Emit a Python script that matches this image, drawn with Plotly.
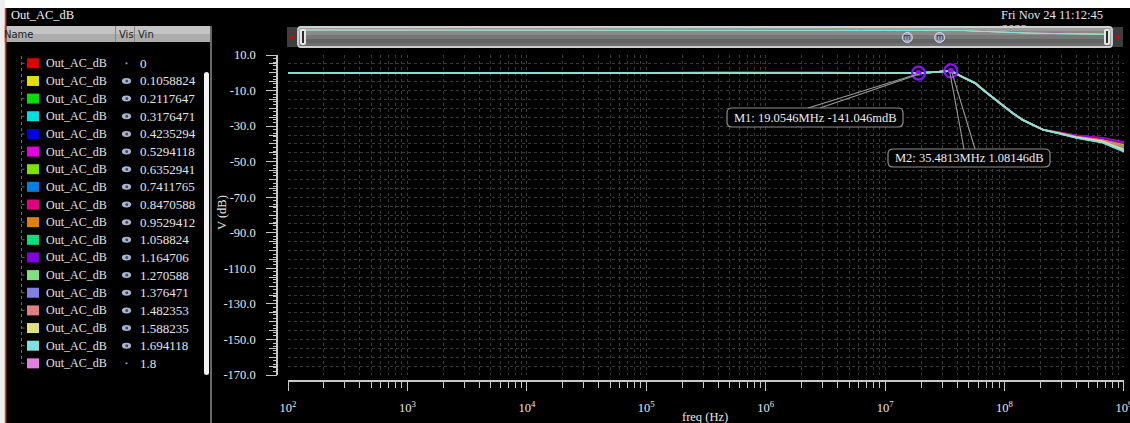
import math
import plotly.graph_objects as go

W, H = 1130, 423
SERIF = "Liberation Serif, Times New Roman, serif"
SANS = "DejaVu Sans, Noto Sans, sans-serif"

# AC sweep frequencies (Hz), shared by every Vin run
freq_hz = [1e2, 1e5, 4e5, 1e6, 3e6, 6e6, 1e7, 1.4e7,
           1.90546e7, 2.5e7, 3e7, 3.54813e7, 4.4e7, 5.7e7, 6.9e7, 9.1e7,
           1.17e8, 1.41e8, 2.1e8,
           2.9e8, 4e8, 6.6e8, 1e9]

# Parametric sweep of Vin: label, trace colour, shown in the plot or not
run_vin = ["0", "0.1058824", "0.2117647", "0.3176471", "0.4235294", "0.5294118",
           "0.6352941", "0.7411765", "0.8470588", "0.9529412", "1.058824",
           "1.164706", "1.270588", "1.376471", "1.482353", "1.588235",
           "1.694118", "1.8"]
run_color = ["#e00000", "#e0e000", "#00e000", "#00e0e0", "#0000e0", "#e000e0",
             "#80e000", "#0080e0", "#e00080", "#e08000", "#00e080", "#8000e0",
             "#80e080", "#8080e0", "#e08080", "#e0e080", "#80e0e0", "#e080e0"]
run_visible = [False, True, True, True, True, True, True, True, True, True,
               True, True, True, True, True, True, True, False]

# Out_AC_dB of the visible runs (Vin 0.1058824 ... 1.694118)
db_flat = [0.0, 0.0]                                   # 100 Hz, 100 kHz
db_400k = [0.0, 0.0, 0.0, 0.0, 0.0, 0.0, 0.0, 0.0, 0.0, 0.0, 0.5, 0.0, 0.0, 0.0, 0.0, 0.0]
db_1M = [0.0, 0.0, 0.0, 0.0, 0.0, 0.0, 0.0, 0.0, 0.0, 0.0, 0.5, 0.0, 0.0, 0.0, 0.0, 0.0]
db_3M = [0.0, 0.0, 0.0, 0.0, 0.0, 0.0, 0.0, 0.0, 0.0, 0.0, 0.4, 0.0, 0.0, 0.0, 0.0, 0.0]
db_6M = [0.0, 0.0, 0.0, 0.0, 0.0, 0.0, 0.0, 0.0, 0.0, -0.3, 0.0, -0.3, 0.0, 0.0, 0.0, 0.0]
db_10M = [-0.05, -0.05, -0.05, -0.05, -0.05, -0.05, -0.05, -0.05, -0.05, -0.35, -0.1, -0.35,
          -0.05, -0.05, -0.05, -0.05]
db_14M = [-0.1, -0.1, -0.1, -0.1, -0.1, -0.1, -0.1, -0.1, -0.1, -0.3, -0.1, -0.3,
          -0.1, -0.1, -0.1, -0.1]
# common peaking / roll-off, 19.05 MHz ... 210 MHz
db_peak = [-0.141046, 0.3, 0.8, 1.08146, -2.2, -5.9, -10.6, -17.1, -22.7, -26.4, -32.0]
# runs fan out above 200 MHz
db_290M = [-33.7, -33.8, -34.3, -34.0, -33.6, -33.8, -34.0, -33.7, -33.9, -34.2, -33.6,
           -34.2, -34.1, -33.9, -34.1, -34.3]
db_400M = [-35.5, -35.7, -36.6, -36.0, -35.2, -35.6, -36.1, -35.4, -35.8, -36.4, -35.3,
           -36.5, -36.2, -35.9, -36.3, -36.7]
db_660M = [-37.1, -37.5, -39.1, -38.1, -36.6, -37.3, -38.2, -37.0, -37.7, -38.8, -36.8,
           -39.0, -38.4, -37.9, -38.6, -39.3]
db_1G = [-40.1, -40.8, -44.0, -41.9, -39.0, -40.4, -42.2, -39.7, -41.2, -43.3, -39.4,
         -43.7, -42.6, -41.5, -43.0, -44.4]

# Markers placed on the response
marker_name = ["M1", "M2"]
marker_freq = [19.0546e6, 35.4813e6]
marker_db = [-0.141046, 1.08146]
marker_text = ["M1: 19.0546MHz -141.046mdB", "M2: 35.4813MHz 1.08146dB"]

# Axis ticks
x_tickvals = [1e2, 1e3, 1e4, 1e5, 1e6, 1e7, 1e8, 1e9]
x_ticktext = ["10<sup>2</sup>", "10<sup>3</sup>", "10<sup>4</sup>", "10<sup>5</sup>",
              "10<sup>6</sup>", "10<sup>7</sup>", "10<sup>8</sup>", "10<sup>9</sup>"]
y_tickvals = [10, -10, -30, -50, -70, -90, -110, -130, -150, -170]
y_ticktext = ["10.0", "-10.0", "-30.0", "-50.0", "-70.0", "-90.0", "-110.0",
              "-130.0", "-150.0", "-170.0"]

# ---- layout geometry (pixels) ----
PX0, PX1 = 288, 1124          # plot area left/right
PY0, PY1 = 55, 375            # plot area top/bottom
OX0, OX1 = 297, 1108          # overview strip
OY0, OY1 = 29, 47
X_RANGE = [2, 9.0004]
OV_RANGE = [2.17, 8.96]


def X(px):
    return px / W


def Y(py):
    return 1 - py / H


def plot_px(f, db):
    return (PX0 + (math.log10(f) - X_RANGE[0]) / (X_RANGE[1] - X_RANGE[0]) * (PX1 - PX0),
            PY0 + (10 - db) / 180 * (PY1 - PY0))


def overview_px(f):
    return OX0 + (math.log10(f) - OV_RANGE[0]) / (OV_RANGE[1] - OV_RANGE[0]) * (OX1 - OX0)


def rect(x0, y0, x1, y1, fill, layer="above", line=None):
    return dict(type="rect", xref="paper", yref="paper", x0=X(x0), x1=X(x1),
                y0=Y(y1), y1=Y(y0), fillcolor=fill, layer=layer,
                line=line if line else dict(width=0))


def seg(x0, y0, x1, y1, color, width=1.0, dash="solid", layer="above"):
    return dict(type="line", xref="paper", yref="paper", x0=X(x0), y0=Y(y0),
                x1=X(x1), y1=Y(y1), layer=layer,
                line=dict(color=color, width=width, dash=dash))


def circ(cx, cy, rx, ry, fill, line=None, layer="above"):
    return dict(type="circle", xref="paper", yref="paper", x0=X(cx - rx), x1=X(cx + rx),
                y0=Y(cy + ry), y1=Y(cy - ry), fillcolor=fill, layer=layer,
                line=line if line else dict(width=0))


def rrect(x0, y0, x1, y1, r, fill, line=None, layer="above"):
    p = (f"M {X(x0 + r)},{Y(y0)} L {X(x1 - r)},{Y(y0)} Q {X(x1)},{Y(y0)} {X(x1)},{Y(y0 + r)} "
         f"L {X(x1)},{Y(y1 - r)} Q {X(x1)},{Y(y1)} {X(x1 - r)},{Y(y1)} "
         f"L {X(x0 + r)},{Y(y1)} Q {X(x0)},{Y(y1)} {X(x0)},{Y(y1 - r)} "
         f"L {X(x0)},{Y(y0 + r)} Q {X(x0)},{Y(y0)} {X(x0 + r)},{Y(y0)} Z")
    return dict(type="path", xref="paper", yref="paper", path=p, fillcolor=fill,
                layer=layer, line=line if line else dict(width=0))


def tri(pts, fill):
    p = "M " + " L ".join(f"{X(a)},{Y(b)}" for a, b in pts) + " Z"
    return dict(type="path", xref="paper", yref="paper", path=p, fillcolor=fill,
                layer="above", line=dict(width=0))


def txt(x, y, s, size=12.5, color="#e6e6e6", anchor="left", family=SERIF, **kw):
    return dict(x=X(x), y=Y(y), xref="paper", yref="paper", text=s, showarrow=False,
                xanchor=anchor, yanchor="middle", borderpad=0,
                font=dict(family=family, size=size, color=color), **kw)


fig = go.Figure()

# ---- waveforms ----
shown = [i for i, v in enumerate(run_visible) if v]
curves = []
for k, i in enumerate(shown):
    y = (db_flat + [db_400k[k], db_1M[k], db_3M[k], db_6M[k], db_10M[k], db_14M[k]]
         + db_peak + [db_290M[k], db_400M[k], db_660M[k], db_1G[k]])
    curves.append((i, y))
    fig.add_trace(go.Scatter(x=freq_hz, y=y, mode="lines", xaxis="x", yaxis="y",
                             line=dict(color=run_color[i], width=1.6),
                             name=f"Out_AC_dB Vin={run_vin[i]}", hoverinfo="skip"))

# overview strip (whole sweep in miniature)
for i, y in curves:
    fig.add_trace(go.Scatter(x=freq_hz, y=y, mode="lines", xaxis="x3", yaxis="y3",
                             line=dict(color=run_color[i], width=1), hoverinfo="skip"))

# dense tick comb on the dB axis
fig.add_trace(go.Scatter(x=[], y=[], xaxis="x", yaxis="y2", hoverinfo="skip"))

# markers
fig.add_trace(go.Scatter(x=marker_freq, y=marker_db, mode="markers", xaxis="x", yaxis="y",
                         marker=dict(symbol="circle-open", size=13, color="#8a10ff",
                                     line=dict(width=2.2, color="#8a10ff")),
                         hoverinfo="skip"))
fig.add_trace(go.Scatter(x=marker_freq, y=marker_db, mode="markers", xaxis="x", yaxis="y",
                         marker=dict(symbol="circle", size=6, color="#8a10ff"),
                         hoverinfo="skip"))

# date line partly hidden behind the overview strip
fig.add_trace(go.Scatter(x=[1002], y=[29.5], mode="text", text=["2023"],
                         textposition="middle right", xaxis="x4", yaxis="y4",
                         cliponaxis=True, hoverinfo="skip",
                         textfont=dict(family=SERIF, size=12.5, color="#e6e6e6")))

shapes = []
ann = []

# ---- window chrome ----
shapes.append(rect(0, 0, W, 8, "#ffffff"))
shapes.append(rect(0, 0, 5, H, "#eeeeee"))
shapes.append(seg(5.6, 8, 5.6, H, "#d03a3a", 1.6))
ann.append(txt(10, 15, "Out_AC_dB", size=12.5, color="#f0f0f0"))

# browser header row
shapes.append(rect(6.5, 26, 210, 34, "#c4c4c4"))
shapes.append(rect(6.5, 34, 210, 42, "#adadad"))
shapes.append(seg(115.5, 26, 115.5, 42, "#858585", 1))
shapes.append(seg(134.5, 26, 134.5, 42, "#858585", 1))
ann.append(txt(3, 34, "Name", size=10, color="#1e1e1e", family=SANS))
ann.append(txt(118, 34, "Vis", size=10, color="#1e1e1e", family=SANS))
ann.append(txt(137, 34, "Vin", size=10, color="#1e1e1e", family=SANS))
shapes.append(seg(5.6, 26, 5.6, 42, "#d03a3a", 1.6))
shapes.append(seg(211, 26, 211, H, "#8a8a8a", 1.5))
shapes.append(rrect(204, 72, 209, 375, 2.5, "#f2f2f2"))

# signal list
row0, row_h = 63.3, 17.65
shapes.append(seg(21.5, 56, 21.5, row0 + row_h * (len(run_vin) - 1), "#6a6a6a", 1, "dot"))
for r, (vin, col, vis) in enumerate(zip(run_vin, run_color, run_visible)):
    cy = row0 + r * row_h
    shapes.append(seg(21.5, cy, 26, cy, "#6a6a6a", 1, "dot"))
    shapes.append(rect(27, cy - 5, 39, cy + 5, col))
    ann.append(txt(45, cy, "Out_AC_dB", size=12, color="#e4e4e4"))
    ann.append(txt(139, cy, vin, size=13, color="#e4e4e4"))
    if vis:
        shapes.append(circ(126.5, cy, 4.6, 3.0, "#aab6ca"))
        shapes.append(circ(126.8, cy, 1.5, 1.5, "#3c4a66"))
    else:
        shapes.append(circ(126.5, cy, 1.1, 1.1, "#8c9ab2"))

# ---- overview strip ----
shapes.append(rrect(297, 26, 1113, 48, 4, "#cfcfcf", layer="below"))
for y0, y1, c in [(28, 31, "#9c9c9c"), (31, 35, "#8a8a8a"), (35, 39, "#777777"),
                  (39, 43, "#636363"), (43, 46, "#6e6e6e")]:
    shapes.append(rect(299.5, y0, 1110.5, y1, c, layer="below"))
shapes.append(rect(287, 27, 297, 47, "#3e3e3e"))
shapes.append(tri([(293.5, 34), (289.5, 37), (293.5, 40)], "#e00000"))
shapes.append(rect(1113, 27, 1123, 47, "#3e3e3e"))
shapes.append(tri([(1116.5, 34), (1120.5, 37), (1116.5, 40)], "#e00000"))
for hx in (300, 1104):
    shapes.append(rrect(hx, 29, hx + 6, 45, 2, "#e6e6e6"))
    shapes.append(rect(hx + 2, 31, hx + 4, 43, "#2c2c2c"))
for f in marker_freq:
    mx = overview_px(f)
    shapes.append(circ(mx, 37.5, 5, 5, "#9fa3b8", line=dict(color="#dcdce8", width=1)))
    ann.append(txt(mx, 37.2, "m", size=8, color="#2a2a3a", anchor="center", family=SANS))

ann.append(txt(1000, 15, "Fri Nov 24 11:12:45", size=12.5, color="#e6e6e6"))

# ---- marker labels ----
boxes = [(727, 108, 903, 127), (888, 149, 1050, 167)]
ends = [[(808, 108), (820, 108)], [(964, 149), (975, 149)]]
for f, db, label, (bx0, by0, bx1, by1), pts in zip(marker_freq, marker_db, marker_text,
                                                   boxes, ends):
    mx, my = plot_px(f, db)
    for k, (ex, ey) in enumerate(pts):
        shapes.append(seg(mx - 1 + 2 * k, my + 1, ex, ey, "#9a9a9a", 1.1))
    shapes.append(rrect(bx0, by0, bx1, by1, 5, "#000000",
                        line=dict(color="#8e8e8e", width=1.2)))
    ann.append(txt((bx0 + bx1) / 2, (by0 + by1) / 2, label, size=12.5,
                   color="#ececec", anchor="center"))

# axis titles
ann.append(txt(222, 213, "V (dB)", size=12.5, color="#e6e6e6", anchor="center",
               textangle=-90))
ann.append(txt(705, 417, "freq (Hz)", size=12.5, color="#e6e6e6", anchor="center"))

grid = "#3a3a3a"
axis_c = "#c8c8c8"
tickfont = dict(family=SERIF, size=12.5, color="#e8e8e8")
minor_x = [k * 10 ** d for d in range(2, 9) for k in range(2, 10)]

fig.update_layout(
    template="none",
    width=W, height=H, autosize=False,
    margin=dict(l=0, r=0, t=0, b=0, pad=0, autoexpand=False),
    paper_bgcolor="#000000", plot_bgcolor="rgba(0,0,0,0)",
    showlegend=False, hovermode=False,
    xaxis=dict(type="log", range=X_RANGE, domain=[X(PX0), X(PX1)],
               anchor="free", position=Y(381), automargin=False,
               showline=True, linecolor=axis_c, linewidth=1.5,
               ticks="outside", ticklen=9, tickwidth=1.2, tickcolor=axis_c,
               tickmode="array", tickvals=x_tickvals, ticktext=x_ticktext,
               tickfont=tickfont, ticklabelstandoff=6, ticklabeloverflow="allow",
               showgrid=True, gridcolor=grid, gridwidth=1, griddash="dot",
               minor=dict(tickvals=minor_x, ticks="outside", ticklen=6, tickwidth=1.1,
                          tickcolor=axis_c, showgrid=True, gridcolor=grid,
                          gridwidth=1, griddash="dot"),
               zeroline=False, fixedrange=True),
    yaxis=dict(range=[-170, 10], domain=[Y(PY1), Y(PY0)],
               anchor="free", position=X(277), side="left", automargin=False,
               showline=True, linecolor=axis_c, linewidth=1.5,
               ticks="outside", ticklen=10, tickwidth=1.2, tickcolor=axis_c,
               tickmode="array", tickvals=y_tickvals, ticktext=y_ticktext,
               tickfont=tickfont, ticklabelstandoff=8,
               showgrid=False,
               minor=dict(tick0=0, dtick=5, ticks="outside", ticklen=7, tickwidth=1,
                          tickcolor=axis_c, showgrid=True, gridcolor=grid,
                          gridwidth=1, griddash="dot"),
               zeroline=False, fixedrange=True),
    yaxis2=dict(range=[-170, 10], overlaying="y", anchor="free", position=X(277),
                side="left", showline=False, showgrid=False, zeroline=False,
                automargin=False,
                tick0=0, dtick=2, ticks="outside", ticklen=4, tickwidth=1,
                tickcolor=axis_c, showticklabels=False, fixedrange=True),
    xaxis3=dict(type="log", range=OV_RANGE, domain=[X(OX0), X(OX1)], anchor="y3",
                visible=False, fixedrange=True, automargin=False),
    yaxis3=dict(range=[-170, 10], domain=[Y(OY1), Y(OY0)], anchor="x3",
                visible=False, fixedrange=True, automargin=False),
    xaxis4=dict(range=[0, W], domain=[0, 1], anchor="y4", visible=False,
                fixedrange=True, automargin=False),
    yaxis4=dict(range=[26, 0], domain=[Y(26), 1], anchor="x4", visible=False,
                fixedrange=True, automargin=False),
    shapes=shapes,
    annotations=ann,
)

fig.write_html("out.html", config={"displayModeBar": False})
